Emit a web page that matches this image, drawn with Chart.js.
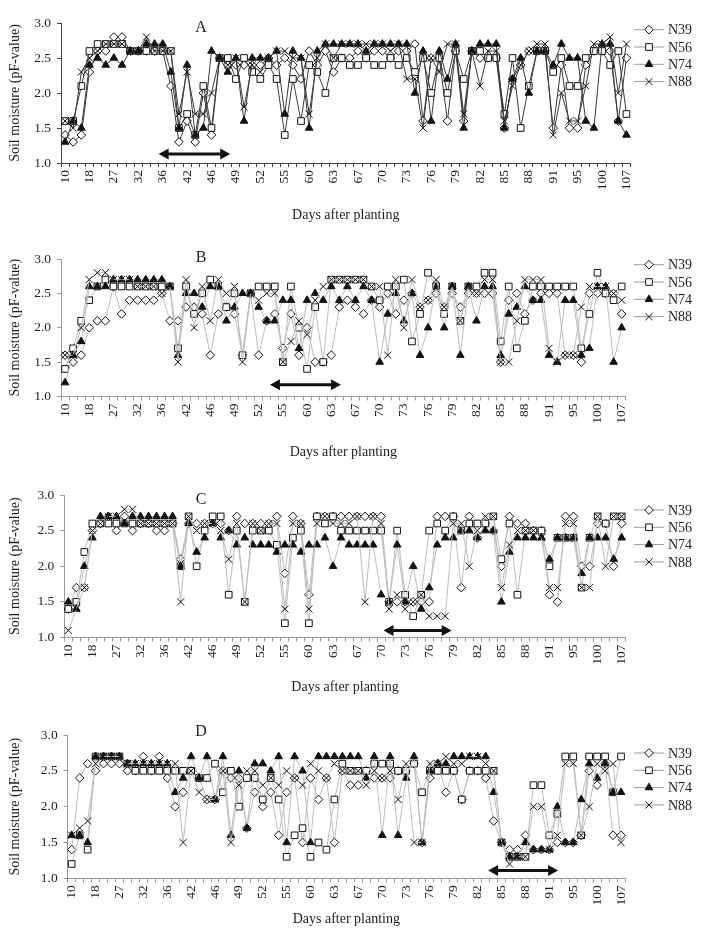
<!DOCTYPE html>
<html>
<head>
<meta charset="utf-8">
<script src="https://cdn.jsdelivr.net/npm/chart.js@4.4.1/dist/chart.umd.min.js"></script>
<style>
  html, body { margin: 0; padding: 0; background: #fff; overflow: hidden; }
  body { width: 701px; height: 931px; position: relative; }
  canvas { position: absolute; left: 0; }
</style>
</head>
<body>
<canvas id="painelA"></canvas>
<canvas id="painelB"></canvas>
<canvas id="painelC"></canvas>
<canvas id="painelD"></canvas>
<script>
// Dias mostrados no eixo X (um rótulo a cada 3 medições)
const diasRotulo = [10, 18, 27, 32, 36, 42, 46, 49, 52, 55, 60, 63, 67, 70, 73, 76, 79, 82, 85, 88, 91, 95, 100, 107];
const nomesSeries = ['N39', 'N56', 'N74', 'N88'];

// Painel A
const a39 = [1.4,1.3,1.4,2.3,2.6,2.6,2.8,2.8,2.6,2.6,
             2.6,2.6,2.6,2.1,1.3,1.6,1.3,2.0,1.4,2.5,
             2.4,2.4,2.4,2.4,2.4,2.5,2.4,2.5,2.4,2.2,
             2.6,2.4,2.6,2.3,2.5,2.5,2.6,2.5,2.6,2.6,
             2.5,2.6,2.6,2.7,1.6,2.5,2.5,1.6,2.6,1.6,
             2.6,2.5,2.5,2.5,1.5,2.2,2.4,2.6,2.6,2.6,
             1.5,2.4,1.5,1.5,2.4,2.6,2.6,2.6,1.6,2.5];
const a56 = [1.6,1.6,2.1,2.6,2.7,2.7,2.7,2.7,2.6,2.6,
             2.6,2.6,2.6,2.6,1.5,1.7,1.4,2.1,1.5,2.5,
             2.5,2.2,2.5,2.3,2.2,2.4,2.2,1.4,2.2,1.6,
             2.4,2.3,2.0,2.5,2.5,2.4,2.4,2.5,2.4,2.4,
             2.5,2.4,2.5,2.3,2.5,2.0,2.5,2.0,2.6,2.2,
             2.6,2.6,2.5,2.5,1.7,2.5,1.5,2.1,2.6,2.6,
             2.3,2.5,2.1,2.1,2.5,2.6,2.6,2.4,2.6,1.7];
const a74 = [1.3,1.6,1.5,2.4,2.5,2.4,2.5,2.4,2.6,2.6,
             2.7,2.7,2.7,2.3,1.5,2.4,1.4,1.5,2.6,2.5,
             2.3,2.5,1.6,2.5,2.5,2.5,2.6,1.7,2.6,2.5,
             1.5,2.6,2.7,2.7,2.7,2.7,2.7,2.6,2.7,2.7,
             2.7,2.7,2.7,2.0,2.6,1.6,2.6,2.2,2.7,1.5,
             2.6,2.7,2.7,2.7,1.5,2.2,2.5,2.0,2.6,2.6,
             2.4,2.7,2.5,2.5,1.6,1.5,2.7,2.7,1.6,1.4];
const a88 = [1.6,1.5,2.3,2.5,2.6,2.7,2.7,2.7,2.6,2.6,
             2.8,2.6,2.6,2.6,1.7,2.3,1.7,1.7,2.0,2.5,
             2.4,2.5,1.8,2.4,2.3,2.5,2.6,2.6,2.5,2.5,
             1.7,2.5,2.7,2.5,2.7,2.7,2.7,2.7,2.7,2.7,
             2.6,2.7,2.2,2.2,1.5,2.5,2.3,2.7,2.7,1.7,
             2.6,2.1,2.6,2.6,1.6,2.1,2.4,2.6,2.7,2.7,
             1.4,2.0,1.6,1.6,2.1,2.7,2.7,2.8,2.0,2.7];

// Painel B
const b39 = [1.6,1.5,1.6,2.0,2.1,2.1,2.6,2.2,2.4,2.4,
             2.4,2.4,2.5,2.1,2.1,2.3,2.3,2.2,1.6,2.2,
             2.3,2.2,1.6,2.5,1.6,2.1,2.2,1.7,2.2,1.6,
             2.0,1.5,1.5,1.6,2.3,2.4,2.3,2.2,2.4,2.3,
             2.5,2.2,2.4,2.5,2.3,2.4,2.5,2.3,2.5,2.3,
             2.5,2.5,2.5,2.5,1.5,2.4,2.5,2.2,2.4,2.5,
             2.5,2.5,1.6,1.6,1.5,2.5,2.5,2.5,2.5,2.2];
const b56 = [1.4,1.7,2.1,2.4,2.6,2.7,2.6,2.6,2.6,2.6,
             2.6,2.6,2.6,2.6,1.7,2.6,2.2,2.5,2.7,2.6,
             2.3,2.5,1.6,2.5,2.6,2.6,2.6,1.5,2.6,2.0,
             1.4,2.3,1.5,2.7,2.7,2.7,2.7,2.7,2.6,2.4,
             2.6,2.6,2.7,1.8,2.2,2.8,2.6,2.2,2.6,2.1,
             2.6,2.6,2.8,2.8,1.8,2.6,1.7,2.1,2.6,2.6,
             2.6,2.6,2.6,2.6,1.7,2.2,2.8,2.5,2.4,2.6];
const b74 = [1.2,1.6,1.8,2.6,2.6,2.6,2.7,2.7,2.7,2.7,
             2.7,2.7,2.7,2.6,1.6,2.5,2.5,2.3,2.6,2.6,
             2.1,2.3,2.5,2.5,2.3,2.1,2.1,2.4,2.4,1.7,
             2.4,2.5,2.4,2.6,2.4,2.6,2.4,2.6,2.4,1.5,
             2.2,2.5,2.1,2.5,1.6,2.0,2.6,2.0,2.6,1.6,
             2.6,2.1,2.6,2.6,1.6,2.2,2.3,2.6,2.4,2.4,
             1.6,1.5,2.4,2.4,1.6,1.7,2.6,2.6,1.5,2.0];
const b88 = [1.6,1.6,2.0,2.7,2.8,2.8,2.7,2.7,2.7,2.6,
             2.6,2.6,2.5,2.6,1.5,2.7,2.0,2.6,2.1,2.7,
             2.5,2.6,1.5,2.5,2.4,2.5,2.5,1.5,1.8,2.1,
             1.9,2.4,2.6,2.7,2.7,2.7,2.7,2.7,2.6,2.6,
             1.6,2.7,2.0,2.7,2.3,2.4,2.7,2.3,2.6,2.1,
             2.6,2.5,2.7,2.7,1.5,1.5,2.1,2.7,2.7,2.7,
             1.7,1.5,1.6,1.6,2.3,2.6,2.6,2.6,2.5,2.4];

// Painel C
const c39 = [1.4,1.7,1.7,2.5,2.6,2.7,2.5,2.7,2.5,2.6,
             2.6,2.5,2.5,2.6,2.1,2.6,2.6,2.6,2.6,2.6,
             2.5,2.7,2.6,2.6,2.6,2.6,2.7,1.9,2.7,2.6,
             1.6,2.7,2.7,2.7,2.7,2.7,2.7,2.7,2.7,2.7,
             1.5,1.5,1.5,1.5,1.5,1.5,2.7,2.7,2.7,1.7,
             2.7,2.4,2.6,2.5,2.0,2.7,2.6,2.6,2.5,2.5,
             1.6,1.5,2.7,2.7,2.0,2.0,2.6,2.6,2.0,2.6];
const c56 = [1.4,1.5,2.2,2.6,2.6,2.6,2.6,2.6,2.6,2.6,
             2.6,2.6,2.6,2.6,2.0,2.7,2.0,2.5,2.7,2.7,
             1.6,2.5,1.5,2.5,2.5,2.5,2.3,1.2,2.4,2.5,
             1.2,2.7,2.6,2.7,2.5,2.5,2.5,2.5,2.5,2.5,
             1.5,2.5,1.6,1.3,1.6,2.5,2.6,2.5,2.7,2.5,
             2.6,2.6,2.6,2.7,2.1,2.6,1.6,2.5,2.5,2.5,
             2.0,2.4,2.4,2.4,1.7,2.4,2.7,2.6,2.7,2.7];
const c74 = [1.5,1.4,2.0,2.4,2.7,2.7,2.7,2.6,2.7,2.7,
             2.7,2.7,2.7,2.7,2.0,2.6,2.2,2.4,2.6,2.4,
             2.5,2.3,2.4,2.3,2.3,2.3,2.2,2.3,2.3,2.2,
             2.3,2.3,2.4,2.0,2.4,2.3,2.3,2.3,2.3,1.6,
             1.5,2.3,1.5,2.0,1.4,1.7,2.3,2.4,2.4,2.5,
             2.5,2.4,2.5,2.5,1.5,2.2,2.4,2.4,2.4,2.4,
             2.1,2.4,2.4,2.4,1.9,2.4,2.4,2.4,2.1,2.4];
const c88 = [1.1,1.4,1.7,2.5,2.6,2.7,2.7,2.8,2.8,2.6,
             2.6,2.6,2.6,2.6,1.5,2.7,2.5,2.6,2.6,2.5,
             2.1,2.6,1.5,2.6,2.5,2.6,2.6,1.4,2.6,2.6,
             1.4,2.6,2.7,2.6,2.6,2.6,2.7,1.5,2.7,2.6,
             1.4,1.6,1.4,1.5,1.6,1.3,1.3,1.3,2.6,2.6,
             2.0,2.5,2.7,2.7,1.7,2.3,2.5,2.5,2.5,2.4,
             1.7,1.7,2.6,2.6,1.7,1.7,2.7,2.0,2.7,2.7];

// Painel D
const d39 = [1.4,2.4,2.6,2.5,2.6,2.6,2.6,2.5,2.5,2.7,
             2.5,2.7,2.4,2.0,2.2,2.5,2.4,2.1,2.1,2.5,
             2.4,2.4,1.7,2.2,2.0,2.2,1.6,2.2,2.4,1.5,
             2.4,2.1,2.4,1.5,2.5,2.3,2.3,2.5,2.4,2.4,
             2.4,2.5,2.5,2.6,1.5,2.4,2.6,2.2,2.5,2.1,
             2.5,2.5,2.4,1.8,1.5,1.4,1.4,1.6,1.4,1.4,
             1.4,1.5,1.5,1.5,1.6,2.5,2.3,2.6,1.6,1.6];
const d56 = [1.2,1.6,1.4,2.7,2.7,2.7,2.7,2.6,2.5,2.5,
             2.5,2.5,2.5,2.5,2.5,2.5,2.4,2.4,2.6,2.2,
             2.5,2.0,2.4,2.4,2.1,2.4,2.1,1.3,1.6,1.7,
             1.3,1.5,1.4,2.1,2.6,2.5,2.5,2.5,2.6,2.6,
             2.6,2.5,2.5,2.6,2.2,2.5,2.5,2.5,2.5,2.1,
             2.5,2.5,2.5,2.5,1.5,1.3,1.3,1.3,2.3,2.3,
             1.6,1.9,2.7,2.7,1.6,2.7,2.7,2.7,2.2,2.7];
const d74 = [1.6,1.6,1.5,2.7,2.7,2.7,2.7,2.6,2.6,2.6,
             2.6,2.6,2.6,2.2,2.4,2.7,2.4,2.7,2.1,2.7,
             1.6,2.5,1.7,2.6,2.6,2.5,2.7,1.5,2.7,2.5,
             1.5,2.7,2.7,2.7,2.7,2.7,2.7,2.4,2.7,1.6,
             2.7,1.6,2.4,2.7,1.5,2.5,2.6,2.6,2.7,2.7,
             2.7,2.7,2.7,2.2,1.5,1.3,1.3,1.5,1.4,1.4,
             1.4,2.0,1.5,1.5,2.1,2.6,2.4,2.6,2.2,2.2];
const d88 = [1.6,1.7,1.8,2.6,2.7,2.7,2.7,2.6,2.6,2.6,
             2.6,2.6,2.6,2.6,1.5,2.5,2.2,2.1,2.1,2.5,
             1.5,2.3,2.5,2.5,2.3,2.4,2.3,2.5,2.4,2.3,
             2.6,2.5,2.4,2.6,2.5,2.5,2.5,2.3,2.5,2.4,
             2.5,2.1,2.6,1.5,1.5,2.6,2.6,2.7,2.6,2.6,
             2.7,2.7,2.6,2.5,1.5,1.2,1.3,1.3,2.0,2.0,
             1.4,1.6,2.6,2.6,1.6,2.0,2.6,2.5,2.6,1.5];

// Setas de período: [índice inicial, índice final, valor pF]
const setaA = [11.5, 20.3, 1.13];
const setaB = [25.4, 34.2, 1.17];
const setaC = [39.3, 47.8, 1.10];
const setaD = [52.3, 61.1, 1.11];

// Rótulos das categorias: só um a cada 3 medições aparece
const categorias = Array.from({ length: a39.length }, (_, i) => (i % 3 === 0 ? String(diasRotulo[i / 3]) : ''));

const FONTE = 'Liberation Serif, Times New Roman, serif';
const COR_TEXTO = '#1e1e1e';

// Marcadores de cada série (losango, quadrado, triângulo, xis)
const estilosSerie = [
    { pointStyle: 'rectRot', pointRadius: 4.3, fundo: '#fff' },
    { pointStyle: 'rect', pointRadius: 4.7, fundo: '#fff' },
    { pointStyle: 'triangle', pointRadius: 4.4, fundo: '#111' },
    { pointStyle: 'crossRot', pointRadius: 5, fundo: '#111' }
];

// Geometria de cada painel (em pixels da página)
const paineis = [
    { id: 'painelA', letra: 'A', series: [a39, a56, a74, a88], seta: setaA, topo: 23.3, altura: 140, esquerda: 61, direita: 630.5, eixoX: 65, corLinha: '#3a3a3a', corEixo: '#444', letraDy: 5, legendaDy: 6.7 },
    { id: 'painelB', letra: 'B', series: [b39, b56, b74, b88], seta: setaB, topo: 259.3, altura: 137.4, esquerda: 61, direita: 625.7, eixoX: 68, corLinha: '#bdbdbd', corEixo: '#999', letraDy: -1, legendaDy: 5.7 },
    { id: 'painelC', letra: 'C', series: [c39, c56, c74, c88], seta: setaC, topo: 494.5, altura: 142.5, esquerda: 64.3, direita: 625.7, eixoX: 62, corLinha: '#bdbdbd', corEixo: '#999', letraDy: 5, legendaDy: 15 },
    { id: 'painelD', letra: 'D', series: [d39, d56, d74, d88], seta: setaD, topo: 735, altura: 143.3, esquerda: 67.7, direita: 625, eixoX: 53, corLinha: '#bdbdbd', corEixo: '#999', letraDy: -3, legendaDy: 18 }
];

const MARGEM_TOPO = 23;

// Plugin que desenha a seta, a letra do painel e a legenda
const criarExtras = (p) => ({
    id: 'extras' + p.letra,
    afterDatasetsDraw(chart) {
        const { ctx, chartArea, scales } = chart;
        ctx.save();

        // Seta dupla
        const [ini, fim, val] = p.seta;
        const x1 = scales.x.getPixelForValue(ini);
        const x2 = scales.x.getPixelForValue(fim);
        const y = scales.y.getPixelForValue(val);
        ctx.strokeStyle = '#111';
        ctx.fillStyle = '#111';
        ctx.lineWidth = 3;
        ctx.beginPath();
        ctx.moveTo(x1 + 6, y);
        ctx.lineTo(x2 - 6, y);
        ctx.stroke();
        const ponta = (x, dir) => {
            ctx.beginPath();
            ctx.moveTo(x, y);
            ctx.lineTo(x + dir * 10, y - 5.5);
            ctx.lineTo(x + dir * 10, y + 5.5);
            ctx.closePath();
            ctx.fill();
        };
        ponta(x1, 1);
        ponta(x2, -1);

        // Letra do painel
        ctx.font = '16px ' + FONTE;
        ctx.fillStyle = COR_TEXTO;
        ctx.textAlign = 'center';
        ctx.textBaseline = 'middle';
        ctx.fillText(p.letra, 201, chartArea.top + p.letraDy);

        // Legenda à direita
        ctx.font = '14px ' + FONTE;
        ctx.textAlign = 'left';
        chart.data.datasets.forEach((ds, i) => {
            const yl = chartArea.top + p.legendaDy + i * 17.3;
            ctx.strokeStyle = '#9a9a9a';
            ctx.lineWidth = 1;
            ctx.beginPath();
            ctx.moveTo(634, yl);
            ctx.lineTo(664, yl);
            ctx.stroke();
            ctx.strokeStyle = '#111';
            ctx.fillStyle = ds.pointBackgroundColor;
            Chart.helpers.drawPoint(ctx, {
                pointStyle: ds.pointStyle,
                radius: ds.pointRadius,
                rotation: 0,
                borderWidth: 1
            }, 649, yl);
            ctx.fillStyle = COR_TEXTO;
            ctx.fillText(nomesSeries[i], 668, yl + 1);
        });

        ctx.restore();
    }
});

const desenharPainel = (p) => {
    const canvas = document.getElementById(p.id);
    const alturaCanvas = MARGEM_TOPO + p.altura + p.eixoX;
    canvas.width = 701;
    canvas.height = Math.round(alturaCanvas);
    canvas.style.top = (p.topo - MARGEM_TOPO) + 'px';

    const datasets = p.series.map((valores, i) => ({
        label: nomesSeries[i],
        data: valores,
        borderColor: p.corLinha,
        borderWidth: 1,
        pointStyle: estilosSerie[i].pointStyle,
        pointRadius: estilosSerie[i].pointRadius,
        pointHoverRadius: estilosSerie[i].pointRadius,
        pointBackgroundColor: estilosSerie[i].fundo,
        pointBorderColor: '#111',
        pointBorderWidth: 1,
        fill: false,
        tension: 0,
        order: 3 - i
    }));

    new Chart(canvas, {
        type: 'line',
        data: { labels: categorias, datasets },
        options: {
            responsive: false,
            animation: false,
            devicePixelRatio: 1,
            layout: { padding: { top: MARGEM_TOPO, left: 0, right: 701 - p.direita, bottom: canvas.height - MARGEM_TOPO - p.altura - p.eixoX } },
            plugins: { legend: { display: false }, tooltip: { enabled: false } },
            scales: {
                x: {
                    type: 'category',
                    offset: true,
                    grid: { offset: true, drawOnChartArea: false, tickLength: 4, color: p.corEixo },
                    border: { color: p.corEixo },
                    ticks: { autoSkip: false, minRotation: 90, maxRotation: 90, padding: 3, color: COR_TEXTO, font: { family: FONTE, size: 13.5 } },
                    title: { display: true, text: 'Days after planting', color: COR_TEXTO, font: { family: FONTE, size: 14 }, padding: { top: 2, bottom: 4 } },
                    afterFit: (s) => { s.height = p.eixoX; }
                },
                y: {
                    min: 1,
                    max: 3,
                    grid: { drawOnChartArea: false, tickLength: 4, color: p.corEixo },
                    border: { color: p.corEixo },
                    ticks: { stepSize: 0.5, padding: 6, color: COR_TEXTO, font: { family: FONTE, size: 13.5 }, callback: (v) => Number(v).toFixed(1) },
                    title: { display: true, text: 'Soil moisture (pF-value)', color: COR_TEXTO, font: { family: FONTE, size: 14 }, padding: { top: 7, bottom: 0 } },
                    afterFit: (s) => { s.width = p.esquerda; }
                }
            }
        },
        plugins: [criarExtras(p)]
    });
};

paineis.forEach(desenharPainel);
</script>
</body>
</html>
